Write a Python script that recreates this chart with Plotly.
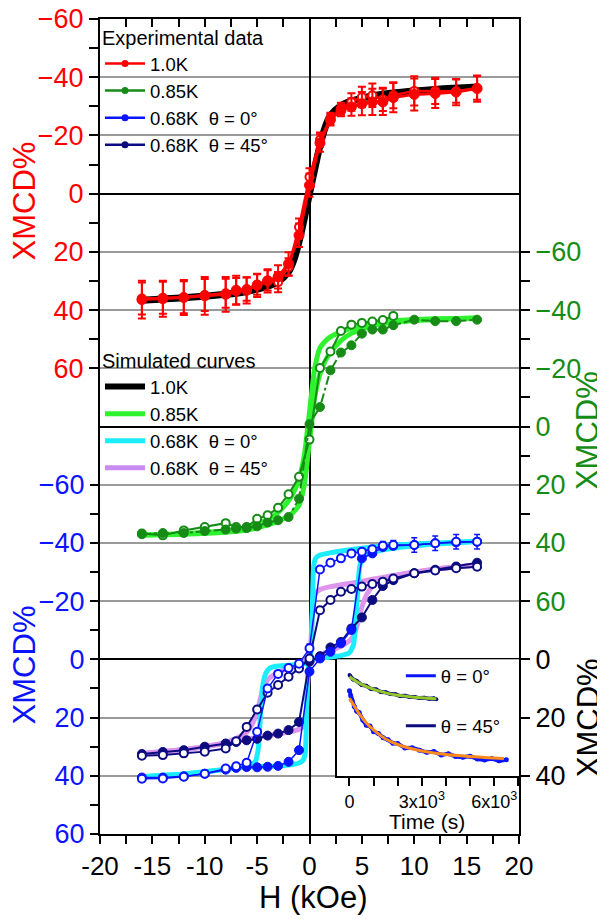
import plotly.graph_objects as go

FONT = "Arial, 'Liberation Sans', Helvetica, sans-serif"

# ---------------- experimental field grid (kOe) ----------------
H_exp = [-16, -14, -12, -10, -8, -7, -6, -5, -4, -3, -2, -1, 0, 1, 2, 3, 4, 5, 6, 7, 8, 10, 12, 14, 16]
H_desc = [16, 14, 12, 10, 8, 7, 6, 5, 4, 3, 2, 1, 0, -1, -2, -3, -4, -5, -6, -7, -8, -10, -12, -14, -16]

# 1.0 K (red axis)
red_a = [36.4, 36.1, 35.7, 35.1, 34.6, 33.2, 33.2, 31.5, 30.0, 28.6, 24.1, 14.3, -2.9,
         -17.4, -25.4, -28.6, -29.8, -30.9, -31.5, -31.5, -33.0, -34.1, -34.4, -34.9, -36.1]
red_a_err = [6.5, 6.2, 6.0, 6.5, 6.0, 5.0, 4.5, 4.0, 4.0, 4.0, 4.0, 4.0, 4.0,
             3.0, 2.0, 2.0, 3.0, 4.0, 4.5, 4.5, 5.0, 5.5, 5.0, 4.5, 4.5]
red_b = [36.0, 35.8, 35.6, 34.8, 34.2, 33.5, 32.8, 31.2, 29.8, 30.4, 25.2, 11.5, -5.7,
         -18.5, -25.8, -29.2, -31.5, -33.2, -33.8, -32.4, -33.8, -35.3, -35.3, -35.2, -36.3]
red_b_err = [5.5, 5.5, 5.5, 5.5, 5.0, 4.5, 4.0, 3.5, 3.5, 3.5, 3.0, 3.0, 3.0,
             2.5, 2.0, 2.0, 3.0, 3.5, 4.0, 4.0, 4.5, 5.0, 4.5, 4.0, 4.0]

# 0.85 K (green axis)
grn_a = [37.0, 36.6, 36.6, 35.9, 35.4, 35.1, 34.9, 34.3, 33.0, 32.2, 31.1, 24.8, -0.8,
         -6.7, -19.3, -25.4, -27.9, -31.9, -33.3, -33.3, -34.8, -36.7, -36.2, -36.2, -36.7]
H_grn_b = [-16, -14, -12, -10, -8, -7, -6, -5, -4, -3, -2, -1, 0, 1, 2, 3, 4, 5, 6, 7, 8]
grn_b = [36.8, 37.4, 35.7, 34.5, 33.2, 34.5, 34.5, 31.7, 30.5, 27.9, 23.3, 17.3, 4.5,
         -20.1, -25.8, -32.8, -35.0, -35.6, -36.1, -36.6, -38.0]

# 0.68 K theta = 0 (blue axis)
blu_a = [40.6, 40.6, 40.2, 39.3, 37.9, 37.3, 37.0, 37.1, 36.9, 36.6, 35.2, 31.2, 4.2,
         -0.3, -2.6, -5.5, -10.1, -34.7, -36.4, -38.6, -39.0, -39.3, -39.9, -40.2, -40.4]
blu_b = [-40.4, -40.4, -39.9, -39.3, -39.3, -39.0, -37.8, -37.0, -36.4, -34.7, -33.2, -30.9, -3.8,
         1.5, 3.0, 5.0, 10.0, 24.9, 35.5, 36.7, 37.5, 39.3, 40.3, 40.9, 41.0]
blu_b_err = [2.5, 2.5, 2.5, 2.5, 1.5, 1.5, 1.0, 1.0, 1.0, 1.0, 1.0, 1.0, 1.5,
             1.0, 1.0, 1.0, 1.0, 1.0, 1.0, 1.0, 1.0, 1.0, 1.0, 1.0, 1.0]

# 0.68 K theta = 45 (blue axis)
nav_a = [32.5, 31.8, 31.2, 30.0, 28.9, 28.4, 27.8, 27.3, 26.2, 25.5, 24.3, 21.5, 0.8,
         -1.1, -4.1, -6.0, -10.6, -14.4, -20.4, -25.2, -27.2, -29.6, -30.8, -31.9, -33.2]
nav_b = [-31.8, -31.3, -30.5, -29.6, -27.8, -26.7, -25.9, -25.0, -24.2, -23.2, -20.4, -16.9, -0.3,
         3.1, 6.0, 8.8, 11.5, 17.2, 23.2, 28.1, 30.6, 31.7, 32.3, 32.9, 33.1]

# ---------------- simulated curves ----------------
H_sim10 = [-16, -12, -8, -6, -4, -3, -2, -1.5, -1, -0.5, 0, 0.5, 1, 1.5, 2, 3, 4, 6, 8, 12, 16]
sim10 = [36.6, 35.8, 34.6, 33.6, 31.8, 30.2, 26.8, 22.8, 16.5, 8.5, 0.0, -8.5, -16.5, -22.8,
         -26.8, -30.2, -31.8, -33.6, -34.6, -35.8, -36.6]

H_sim085_d = [16, 12, 8, 6, 4, 3, 2, 1.5, 1, 0.5, 0, -0.5, -1, -1.5, -2, -3, -4, -6, -8, -12, -16]
sim085_d = [-37.3, -37.0, -36.3, -35.6, -33.8, -32.5, -30.8, -29.3, -27.0, -20.0, -5.0, 10.0, 18.0,
            22.5, 25.5, 29.5, 32.0, 34.6, 35.8, 36.8, 37.3]
H_sim085_u = [-16, -12, -8, -6, -4, -3, -2, -1.5, -1, -0.5, 0, 0.5, 1, 1.5, 2, 3, 4, 6, 8, 12, 16]
sim085_u = [37.3, 37.0, 36.3, 35.6, 33.8, 32.5, 30.8, 29.3, 27.0, 20.0, 5.0, -10.0, -18.0,
            -22.5, -25.5, -29.5, -32.0, -34.6, -35.8, -36.8, -37.3]

H_cyan_d = [16, 12, 8, 5, 3, 2, 1, 0.6, 0.4, 0.3, 0.2, 0.1, 0, -1, -2, -3, -3.8, -4.2, -4.5,
            -4.7, -4.9, -5.2, -6, -8, -12, -16]
cyan_d = [-40.6, -40.0, -39.3, -38.2, -37.2, -36.6, -35.8, -34.8, -32.0, -22.0, -8.0, -1.0, 1.0,
          1.8, 2.0, 2.3, 3.0, 5.0, 10.0, 20.0, 31.0, 35.3, 36.6, 37.8, 39.4, 40.3]
H_cyan_u = [-16, -12, -8, -6, -5, -3, -2, -1, -0.6, -0.4, -0.3, -0.2, -0.1, 0, 1, 2, 3, 3.8,
            4.2, 4.4, 4.6, 4.8, 5.2, 6, 8, 12, 16]
cyan_u = [40.3, 39.4, 37.8, 37.0, 36.8, 36.6, 36.3, 35.6, 34.6, 32.0, 22.0, 8.0, 2.0, 0.3,
          -0.4, -0.8, -1.3, -2.2, -5.0, -12.0, -24.0, -32.0, -35.6, -36.8, -38.2, -39.6, -40.5]

H_pink_d = [16, 12, 8, 6, 5, 4, 3, 2, 1, 0.5, 0.3, 0.15, 0, -1, -2, -3, -4, -4.5, -5, -5.5,
            -6, -7, -8, -10, -12, -16]
pink_d = [-32.4, -31.0, -28.8, -27.5, -26.8, -26.2, -25.6, -25.0, -24.0, -22.5, -17.0, -7.0, -1.5,
          1.5, 3.0, 4.5, 7.0, 11.0, 18.0, 22.5, 25.0, 27.2, 28.5, 30.0, 31.0, 32.4]
H_pink_u = [-16, -12, -8, -6, -5, -4, -3, -2, -1, -0.5, -0.3, -0.15, 0, 1, 2, 3, 4, 4.5, 5, 5.5,
            6, 7, 8, 10, 12, 16]
pink_u = [32.4, 31.0, 28.8, 27.5, 26.8, 26.2, 25.6, 25.0, 24.0, 22.5, 17.0, 7.0, 1.5,
          -1.5, -3.0, -4.5, -7.0, -11.0, -18.0, -22.5, -25.0, -27.2, -28.5, -30.0, -31.0, -32.4]

# ---------------- inset: relaxation vs time ----------------
t_0 = [0, 150, 300, 500, 700, 900, 1100, 1300, 1500, 1700, 1900, 2100, 2300, 2500, 2700,
       2900, 3100, 3300, 3500, 3600]
x_0 = [5.4, 6.9, 7.4, 8.8, 9.1, 10.2, 10.3, 11.2, 11.3, 11.9, 12.0, 12.6, 12.5, 12.9, 12.9,
       13.3, 13.2, 13.5, 13.4, 13.7]
t_0fit = [0, 250, 500, 1000, 1500, 2000, 2500, 3000, 3600]
x_0fit = [6.0, 7.4, 8.6, 10.3, 11.5, 12.3, 12.8, 13.2, 13.5]

t_45 = [0, 50, 100, 200, 300, 400, 550, 700, 850, 1000, 1200, 1400, 1600, 1800, 2000, 2300,
        2600, 2900, 3200, 3500, 3800, 4100, 4400, 4700, 5000, 5300, 5600, 5900, 6200, 6500]
x_45 = [10.8, 12.5, 14.0, 16.2, 17.8, 18.2, 20.8, 22.6, 22.9, 24.8, 25.4, 26.9, 27.6, 28.8, 28.9,
        30.4, 30.3, 31.2, 31.9, 31.6, 32.8, 32.4, 33.3, 33.6, 33.2, 34.2, 34.5, 34.0, 34.8, 34.4]
t_45fit = [0, 200, 400, 700, 1000, 1500, 2000, 2500, 3000, 3500, 4000, 4500, 5000, 5500, 6000, 6400]
x_45fit = [13.4, 16.0, 18.6, 21.8, 24.2, 27.3, 29.2, 30.5, 31.4, 32.1, 32.6, 33.0, 33.3, 33.6, 33.8, 34.0]

# ---------------- tick labels ----------------
xt_vals = [-20, -15, -10, -5, 0, 5, 10, 15, 20]
xt_text = ["-20", "-15", "-10", "-5", "0", "5", "10", "15", "20"]
xt_minor = [-17.5, -12.5, -7.5, -2.5, 2.5, 7.5, 12.5, 17.5]
xt_top = [-17.5, -15, -12.5, -10, -7.5, -5, -2.5, 2.5, 5, 7.5, 10, 12.5, 15, 17.5]
yt_vals = [-60, -40, -20, 0, 20, 40, 60]
yt_minor = [-50, -30, -10, 10, 30, 50]
inset_xt = [0, 3000, 6000]
inset_xtext = ["0", "3x10<sup>3</sup>", "6x10<sup>3</sup>"]
inset_xminor = [1000, 2000, 4000, 5000, 7000]
inset_yt = [0, 20, 40]

RED = "#ff0000"
GRN = "#168c16"
LIME = "#2ef22e"
BLU = "#0a14ff"
NAV = "#0c0c80"
CYAN = "#1cecff"
PINK = "#dd95ee"

fig = go.Figure()

# gridline carrier / top tick carrier (empty)
fig.add_trace(go.Scatter(x=[None], y=[None], yaxis="y4", showlegend=False, hoverinfo="skip"))
fig.add_trace(go.Scatter(x=[None], y=[None], xaxis="x3", showlegend=False, hoverinfo="skip"))

# simulated curves
fig.add_trace(go.Scatter(x=H_sim10, y=sim10, yaxis="y", mode="lines",
                         line=dict(color="black", width=7, shape="spline"), showlegend=False))
for hx, vy in [(H_sim085_d, sim085_d), (H_sim085_u, sim085_u)]:
    fig.add_trace(go.Scatter(x=hx, y=vy, yaxis="y2", mode="lines",
                             line=dict(color=LIME, width=5, shape="spline", smoothing=0.6),
                             showlegend=False))
for hx, vy in [(H_pink_d, pink_d), (H_pink_u, pink_u)]:
    fig.add_trace(go.Scatter(x=hx, y=vy, yaxis="y3", mode="lines",
                             line=dict(color=PINK, width=5, shape="spline", smoothing=0.5),
                             showlegend=False))
for hx, vy in [(H_cyan_d, cyan_d), (H_cyan_u, cyan_u)]:
    fig.add_trace(go.Scatter(x=hx, y=vy, yaxis="y3", mode="lines",
                             line=dict(color=CYAN, width=5, shape="spline", smoothing=0.5),
                             showlegend=False))

# experimental data
open_m = lambda c, s=8: dict(symbol="circle", size=s, color="white", line=dict(color=c, width=2))
fill_m = lambda c, s=9: dict(symbol="circle", size=s, color=c, line=dict(color=c, width=1))

fig.add_trace(go.Scatter(x=H_exp, y=red_b, yaxis="y", mode="lines+markers",
                         line=dict(color=RED, width=2.5), marker=open_m(RED, 8),
                         error_y=dict(type="data", array=red_b_err, color=RED, thickness=2, width=4),
                         showlegend=False))
fig.add_trace(go.Scatter(x=H_exp, y=red_a, yaxis="y", mode="lines+markers",
                         line=dict(color=RED, width=3), marker=fill_m(RED, 10),
                         error_y=dict(type="data", array=red_a_err, color=RED, thickness=2, width=4),
                         showlegend=False))

fig.add_trace(go.Scatter(x=H_grn_b, y=grn_b, yaxis="y2", mode="lines+markers",
                         line=dict(color=GRN, width=2), marker=open_m(GRN, 8), showlegend=False))
fig.add_trace(go.Scatter(x=H_exp, y=grn_a, yaxis="y2", mode="lines+markers",
                         line=dict(color=GRN, width=2, dash="dashdot"), marker=fill_m(GRN, 9),
                         showlegend=False))

fig.add_trace(go.Scatter(x=H_exp, y=nav_a, yaxis="y3", mode="lines+markers",
                         line=dict(color=NAV, width=2), marker=fill_m(NAV, 9),
                         error_y=dict(type="constant", value=1.0, color=NAV, thickness=1.5, width=3),
                         showlegend=False))
fig.add_trace(go.Scatter(x=H_desc, y=nav_b, yaxis="y3", mode="lines+markers",
                         line=dict(color=NAV, width=2), marker=open_m(NAV, 8),
                         error_y=dict(type="constant", value=1.0, color=NAV, thickness=1.5, width=3),
                         showlegend=False))
fig.add_trace(go.Scatter(x=H_exp, y=blu_a, yaxis="y3", mode="lines+markers",
                         line=dict(color=BLU, width=1.5), marker=fill_m(BLU, 9),
                         showlegend=False))
fig.add_trace(go.Scatter(x=H_desc, y=blu_b, yaxis="y3", mode="lines+markers",
                         line=dict(color=BLU, width=1.5), marker=open_m(BLU, 8),
                         error_y=dict(type="data", array=blu_b_err, color=BLU, thickness=1.5, width=3),
                         showlegend=False))

# inset
fig.add_trace(go.Scatter(x=t_0, y=x_0, xaxis="x2", yaxis="y5", mode="lines+markers",
                         line=dict(color=NAV, width=4), marker=dict(color=NAV, size=4),
                         showlegend=False))
fig.add_trace(go.Scatter(x=t_0fit, y=x_0fit, xaxis="x2", yaxis="y5", mode="lines",
                         line=dict(color="#93c828", width=3, shape="spline"), showlegend=False))
fig.add_trace(go.Scatter(x=t_45, y=x_45, xaxis="x2", yaxis="y5", mode="lines+markers",
                         line=dict(color=BLU, width=4), marker=dict(color=BLU, size=5),
                         showlegend=False))
fig.add_trace(go.Scatter(x=t_45fit, y=x_45fit, xaxis="x2", yaxis="y5", mode="lines",
                         line=dict(color="#ff8a1c", width=3, shape="spline"), showlegend=False))

# legend-only entries
for name, c in [("1.0K", RED), ("0.85K", GRN), ("0.68K  θ = 0°", BLU), ("0.68K  θ = 45°", NAV)]:
    fig.add_trace(go.Scatter(x=[None], y=[None], mode="lines+markers", name=name,
                             line=dict(color=c, width=2.5), marker=dict(color=c, size=7),
                             legend="legend"))
for name, c, w in [("1.0K", "black", 6), ("0.85K", LIME, 5), ("0.68K  θ = 0°", CYAN, 5),
                   ("0.68K  θ = 45°", "#c88cf0", 5)]:
    fig.add_trace(go.Scatter(x=[None], y=[None], mode="lines", name=name,
                             line=dict(color=c, width=w), legend="legend2"))
for name, c in [("θ = 0°", BLU), ("θ = 45°", NAV)]:
    fig.add_trace(go.Scatter(x=[None], y=[None], mode="lines", name=name, legendgroup=name,
                             line=dict(color=c, width=3), legend="legend3"))

tickcommon = dict(ticks="outside", ticklen=9, tickwidth=2, tickcolor="black")
LEGF = 18.5

# page body adds an 8px margin: the figure is sized so the plot area lands where it should
fig.update_layout(
    width=597, height=911,
    margin=dict(l=92, r=86, t=11, b=85, autoexpand=False),
    paper_bgcolor="white", plot_bgcolor="white",
    font=dict(family=FONT, size=20, color="black"),
    xaxis=dict(domain=[0, 1], range=[-20, 20], anchor="y",
               tickmode="array", tickvals=xt_vals, ticktext=xt_text,
               tickfont=dict(size=26, color="black"), ticklen=8, ticks="outside",
               tickwidth=2, tickcolor="black", ticklabeloverflow="allow",
               minor=dict(tickvals=xt_minor, ticks="outside", ticklen=8, tickwidth=2, tickcolor="black"),
               showline=True, linewidth=2, linecolor="black", mirror=True,
               showgrid=False, zeroline=True, zerolinecolor="black", zerolinewidth=2),
    xaxis3=dict(overlaying="x", side="top", anchor="y", range=[-20, 20],
                tickmode="array", tickvals=xt_top, ticks="inside", ticklen=8, tickwidth=2,
                tickcolor="black", showticklabels=False, showline=False, showgrid=False,
                zeroline=False),
    yaxis=dict(domain=[0, 1], range=[220, -60], anchor="x", side="left",
               tickmode="array", tickvals=yt_vals, tickfont=dict(size=27, color=RED),
               ticklabeloverflow="allow",
               minor=dict(tickvals=yt_minor, **tickcommon), **tickcommon,
               showline=True, linewidth=2, linecolor="black", showgrid=False,
               zeroline=True, zerolinecolor="black", zerolinewidth=2),
    yaxis2=dict(overlaying="y", range=[140, -140], anchor="x", side="right",
                tickmode="array", tickvals=yt_vals, tickfont=dict(size=27, color=GRN),
                ticklabeloverflow="allow",
                minor=dict(tickvals=yt_minor, **tickcommon), **tickcommon,
                showline=True, linewidth=2, linecolor="black", showgrid=False,
                zeroline=True, zerolinecolor="black", zerolinewidth=2),
    yaxis3=dict(overlaying="y", range=[60, -220], anchor="x", side="left",
                tickmode="array", tickvals=yt_vals, tickfont=dict(size=27, color=BLU),
                ticklabeloverflow="allow",
                minor=dict(tickvals=yt_minor, **tickcommon), **tickcommon,
                showline=False, showgrid=False,
                zeroline=True, zerolinecolor="black", zerolinewidth=2),
    yaxis4=dict(overlaying="y", range=[60, -220], anchor="x", side="left",
                dtick=20, tick0=0, showgrid=True, gridcolor="#9a9a9a", gridwidth=1.5,
                showticklabels=False, ticks="", zeroline=False, showline=False),
    xaxis2=dict(domain=[0.5653, 1], anchor="y5", range=[-523, 7026],
                tickmode="array", tickvals=inset_xt, ticktext=inset_xtext,
                tickfont=dict(size=18, color="black"), ticks="outside", ticklen=8,
                tickwidth=2, tickcolor="black", ticklabeloverflow="allow",
                minor=dict(tickvals=inset_xminor, ticks="outside", ticklen=8, tickwidth=2,
                           tickcolor="black"),
                showline=True, linewidth=2, linecolor="black", showgrid=False, zeroline=False),
    yaxis5=dict(domain=[0.07117, 0.21436], anchor="x2", side="right", range=[40, 0],
                tickmode="array", tickvals=inset_yt, tickfont=dict(size=27, color="black"),
                ticklabeloverflow="allow",
                **tickcommon, showline=True, linewidth=2, linecolor="black", mirror=True,
                showgrid=False, zeroline=False),
    legend=dict(x=0.0, y=1.0, xanchor="left", yanchor="top", bgcolor="rgba(0,0,0,0)",
                font=dict(size=LEGF), itemwidth=40,
                title=dict(text="Experimental data", font=dict(size=20)),
                tracegroupgap=0),
    legend2=dict(x=0.0, y=0.6036, xanchor="left", yanchor="top", bgcolor="rgba(0,0,0,0)",
                 font=dict(size=LEGF), itemwidth=40,
                 title=dict(text="Simulated curves", font=dict(size=20)),
                 tracegroupgap=0),
    legend3=dict(x=0.718, y=0.217, xanchor="left", yanchor="top", bgcolor="rgba(0,0,0,0)",
                 font=dict(size=LEGF), tracegroupgap=23),
    showlegend=True,
    annotations=[
        dict(text="XMCD%", xref="paper", yref="paper", x=-0.178, y=0.7767, textangle=-90,
             showarrow=False, font=dict(size=31, color=RED), xanchor="center", yanchor="middle"),
        dict(text="XMCD%", xref="paper", yref="paper", x=-0.178, y=0.2074, textangle=-90,
             showarrow=False, font=dict(size=31, color=BLU), xanchor="center", yanchor="middle"),
        dict(text="XMCD%", xref="paper", yref="paper", x=1.165, y=0.4945, textangle=-90,
             showarrow=False, font=dict(size=31, color=GRN), xanchor="center", yanchor="middle"),
        dict(text="XMCD%", xref="paper", yref="paper", x=1.165, y=0.1423, textangle=-90,
             showarrow=False, font=dict(size=31, color="black"), xanchor="center", yanchor="middle"),
        dict(text="H (kOe)", xref="paper", yref="paper", x=0.5087, y=-0.0785,
             showarrow=False, font=dict(size=31, color="black"), xanchor="center", yanchor="middle"),
        dict(text="Time (s)", xref="paper", yref="paper", x=0.781, y=0.0155,
             showarrow=False, font=dict(size=21, color="black"), xanchor="center", yanchor="middle"),
    ],
)

fig.write_html("out.html")
